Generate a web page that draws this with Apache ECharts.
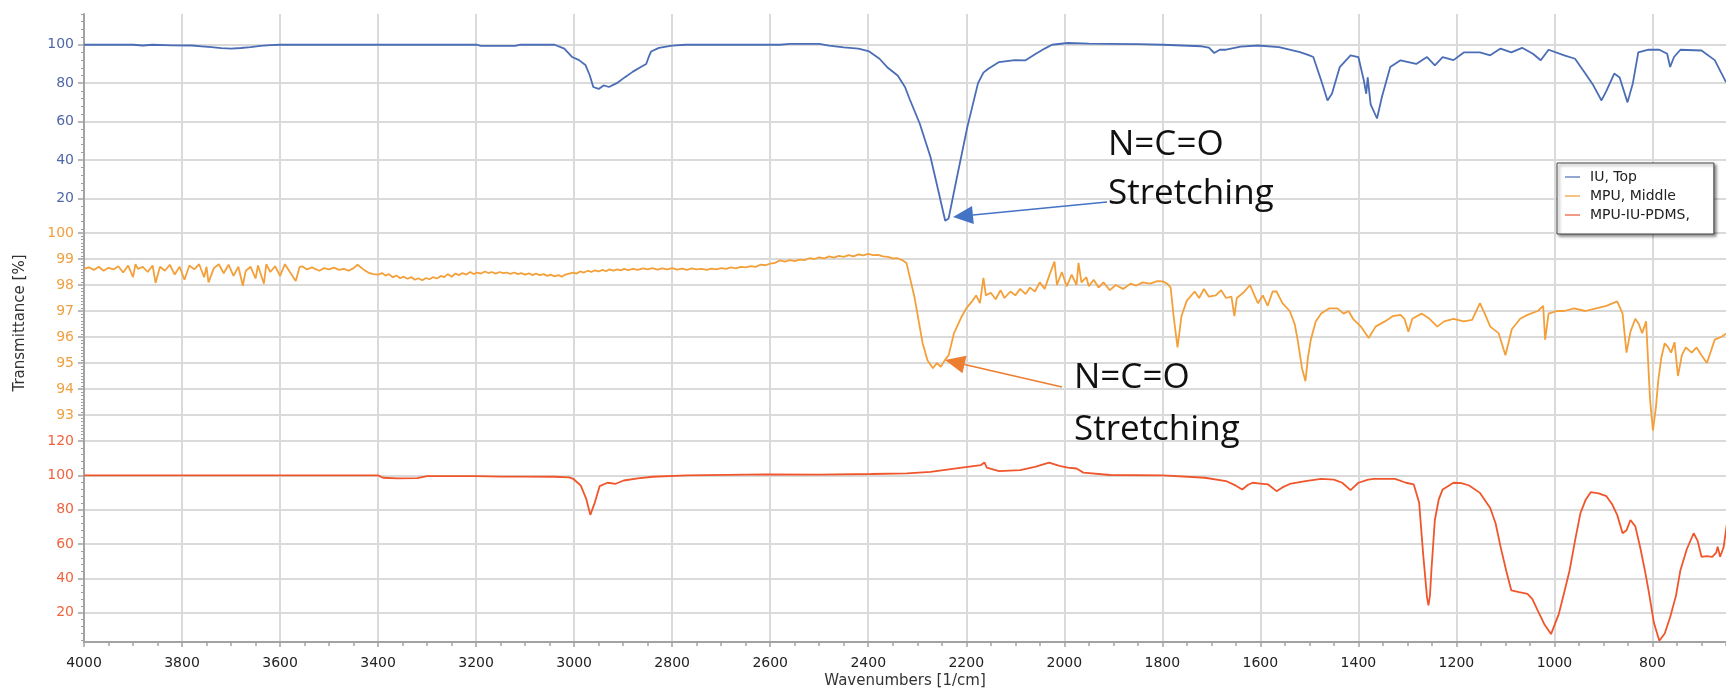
<!DOCTYPE html>
<html><head><meta charset="utf-8">
<script src="https://cdn.jsdelivr.net/npm/echarts@6/dist/echarts.min.js"></script>
<style>html,body{margin:0;padding:0;background:#fff;}#c{width:1726px;height:694px;}</style>
</head><body><div id="c"></div>
<script>
// ---------- data (wavenumber [1/cm], transmittance [%]) ----------
const seriesNames = ['IU, Top', 'MPU, Middle', 'MPU-IU-PDMS,'];
const xTickValues = [800,1000,1200,1400,1600,1800,2000,2200,2400,2600,2800,3000,3200,3400,3600,3800,4000];
const topTickValues = [20,40,60,80,100];
const midTickValues = [93,94,95,96,97,98,99,100];
const botTickValues = [20,40,60,80,100,120];

const iuData = [
[4000,100],[3900,100],[3880,99.6],[3860,100],[3820,99.7],[3780,99.6],[3760,99.2],[3740,98.8],[3720,98.2],[3700,98.0],[3680,98.3],[3660,98.8],[3640,99.4],[3620,99.8],[3600,100],
[3200,100],[3190,99.4],[3120,99.4],[3110,100],[3040,100],[3020,98],[3004,93.6],[2990,92],[2977,89.5],[2968,84],[2961,78],[2950,77],[2940,78.8],[2929,78],[2913,80],[2897,83],[2880,86],[2864,88.4],[2853,90],[2848,93.5],[2843,96.5],[2827,98.4],[2800,99.5],[2773,100],
[2580,100],[2560,100.4],[2500,100.5],[2480,99.5],[2450,98.6],[2420,98],[2398,96.5],[2377,92.7],[2360,88],[2340,84],[2325,78],[2316,72],[2295,59],[2273,41.6],[2257,24],[2243,8.4],[2236,9.6],[2219,31],[2198,57],[2176,80],[2165,85.5],[2155,87.5],[2133,91],[2101,92],[2079,91.9],[2058,95.3],[2040,98],[2025,100],[1993,100.9],[1950,100.6],[1907,100.5],[1850,100.3],[1799,100],
[1720,99.2],[1705,98.5],[1694,95.7],[1682,97.5],[1670,97.4],[1640,99],[1605,99.6],[1562,98.8],[1519,96.2],[1500,94.5],[1492,93.6],[1476,81.5],[1463,71],[1454,74.5],[1438,88.4],[1416,94.5],[1400,93.6],[1389,81.5],[1384,74.5],[1381,83],[1375,69],[1362,61.6],[1352,72.8],[1335,88.4],[1314,91.9],[1282,90],[1260,93.6],[1244,89.3],[1228,93.6],[1206,92],[1185,96],[1152,96],[1131,94.5],[1110,98],[1088,96],[1066,98.4],[1044,95.3],[1028,91.9],[1012,97.4],[980,94.5],[958,92.7],[937,85],[921,79],[904,71],[894,76],[878,85],[867,83],[851,70],[840,80],[829,96],[808,97.4],[786,97.4],[770,95.3],[764,88.4],[756,93.6],[743,97.4],[700,97],[673,92],[650,80.5]
];

const mpuData = [
[4000,98.62],[3990,98.68],[3980,98.58],[3970,98.7],[3960,98.55],[3950,98.66],[3940,98.6],[3930,98.72],[3920,98.48],[3910,98.75],[3900,98.3],[3895,98.8],[3890,98.62],[3880,98.7],[3870,98.5],[3860,98.75],[3854,98.08],[3845,98.7],[3835,98.55],[3825,98.78],[3815,98.4],[3805,98.7],[3795,98.2],[3785,98.75],[3775,98.6],[3765,98.8],[3755,98.3],[3750,98.7],[3746,98.1],[3735,98.65],[3725,98.8],[3715,98.45],[3705,98.78],[3695,98.35],[3685,98.7],[3676,97.97],[3670,98.55],[3660,98.7],[3650,98.25],[3645,98.75],[3633,98.05],[3628,98.8],[3620,98.5],[3610,98.72],[3600,98.35],[3590,98.8],[3580,98.5],[3568,98.15],[3560,98.7],[3555,98.72],[3545,98.6],[3535,98.68],[3520,98.55],[3510,98.65],[3500,98.6],[3490,98.67],[3480,98.58],[3470,98.62],[3460,98.55],[3450,98.65],[3442,98.78],[3430,98.6],[3420,98.48],[3410,98.42],
[3400,98.4],[3392,98.46],[3385,98.36],[3378,98.42],[3370,98.3],[3362,98.36],[3355,98.26],[3348,98.32],[3340,98.24],[3332,98.3],[3325,98.2],[3318,98.26],[3310,98.18],[3302,98.27],[3295,98.22],[3288,98.3],[3280,98.25],[3272,98.35],[3265,98.3],[3258,98.42],[3250,98.32],[3242,98.44],[3235,98.38],[3228,98.46],[3220,98.4],[3212,98.5],[3205,98.42],[3198,98.48],[3190,98.44],[3182,98.52],[3175,98.46],[3168,98.5],[3160,98.44],[3152,98.5],[3145,98.46],[3138,98.48],[3130,98.43],[3122,98.48],[3115,98.42],[3108,98.46],[3100,98.4],[3092,98.45],[3085,98.38],[3078,98.44],[3070,98.38],[3062,98.42],[3055,98.35],[3048,98.4],[3040,98.33],[3032,98.38],[3025,98.32],[3018,98.4],[3010,98.44],[3002,98.48],[2995,98.44],[2988,98.52],[2980,98.48],[2972,98.55],[2965,98.5],[2958,98.56],[2950,98.52],[2942,98.58],[2935,98.53],[2928,98.6],[2920,98.55],[2912,98.6],[2905,98.56],[2898,98.62],[2890,98.57],[2880,98.62],[2870,98.58],[2860,98.64],[2850,98.6],[2840,98.65],[2830,98.59],[2820,98.64],[2810,98.6],[2800,98.65],[2790,98.59],[2780,98.63],[2770,98.58],[2760,98.64],[2750,98.6],[2740,98.62],[2730,98.58],[2720,98.63],[2710,98.6],[2700,98.65],[2690,98.62],[2680,98.68],[2670,98.64],[2660,98.7],[2650,98.68],[2640,98.73],[2630,98.7],[2620,98.78],[2610,98.76],[2600,98.82],[2590,98.85],[2580,98.95],[2570,98.9],[2560,98.96],[2550,98.92],[2540,98.98],[2530,98.96],[2520,99.03],[2510,99.0],[2500,99.06],[2490,99.02],[2480,99.1],[2470,99.05],[2460,99.12],[2450,99.08],[2440,99.15],[2430,99.1],[2420,99.18],[2410,99.14],[2400,99.2],[2390,99.15],[2380,99.16],[2370,99.1],[2360,99.08],[2350,99.02],[2340,99.03],[2330,98.95],[2322,98.85],
[2306,97.56],[2289,95.76],[2279,95.1],[2268,94.8],[2260,95.0],[2252,94.85],[2244,95.1],[2236,95.3],[2225,96.15],[2209,96.8],[2200,97.1],[2187,97.4],[2180,97.6],[2172,97.3],[2165,98.27],[2160,97.6],[2150,97.7],[2140,97.45],[2130,97.8],[2122,97.5],[2110,97.75],[2100,97.6],[2090,97.85],[2079,97.65],[2070,97.9],[2060,97.75],[2050,98.1],[2040,97.85],[2030,98.4],[2020,98.9],[2015,98.0],[2005,98.5],[1995,97.95],[1985,98.4],[1975,98.0],[1971,98.85],[1965,98.1],[1955,98.3],[1950,97.95],[1940,98.2],[1930,97.9],[1920,98.1],[1907,97.8],[1895,98.0],[1880,97.85],[1865,98.05],[1853,97.98],[1840,98.1],[1825,98.05],[1810,98.15],[1799,98.14],[1790,98.05],[1783,97.9],[1777,96.8],[1769,95.6],[1761,96.8],[1750,97.4],[1734,97.75],[1725,97.5],[1715,97.85],[1705,97.55],[1691,97.6],[1680,97.8],[1670,97.5],[1659,97.55],[1653,96.8],[1648,97.5],[1635,97.7],[1621,98.0],[1612,97.6],[1605,97.3],[1595,97.6],[1585,97.2],[1575,97.75],[1567,97.75],[1555,97.3],[1540,97.0],[1530,96.5],[1524,95.9],[1515,94.8],[1508,94.3],[1503,95.2],[1497,95.9],[1487,96.6],[1476,96.9],[1460,97.1],[1443,97.1],[1430,96.9],[1420,97.0],[1411,96.7],[1395,96.4],[1379,95.96],[1365,96.4],[1346,96.6],[1330,96.8],[1314,96.85],[1306,96.7],[1298,96.2],[1290,96.7],[1271,96.9],[1255,96.7],[1239,96.4],[1225,96.6],[1206,96.7],[1185,96.6],[1168,96.66],[1152,97.3],[1140,96.8],[1131,96.4],[1114,96.15],[1100,95.3],[1087,96.3],[1070,96.7],[1055,96.85],[1034,97.0],[1023,97.2],[1019,95.9],[1012,96.9],[995,97.0],[980,97.0],[960,97.1],[937,97.0],[915,97.1],[894,97.2],[872,97.37],[861,96.9],[853,95.4],[845,96.2],[835,96.7],[828,96.5],[821,96.15],[813,96.6],[805,93.6],[799,92.4],[793,93.3],[788,94.35],[782,95.2],[775,95.76],[768,95.6],[762,95.4],[755,95.8],[748,94.5],[740,95.3],[732,95.6],[720,95.4],[710,95.6],[700,95.3],[689,95.0],[680,95.5],[673,95.9],[660,96.0],[648,96.15]
];

const pdmsData = [
[4000,100],[3900,100],[3400,100],[3390,98.6],[3360,98.2],[3320,98.4],[3300,99.5],[3256,99.6],[3202,99.6],[3148,99.3],[3100,99.3],[3040,99.2],[3010,98.8],[3002,98],[2990,95],[2986,93.7],[2975,86],[2967,77],[2958,84],[2948,93.7],[2932,95.7],[2915,95.1],[2899,97],[2870,98.2],[2840,99.2],[2770,100],[2609,100.6],[2502,100.4],[2394,100.8],[2321,101.2],[2273,102],[2209,104.5],[2170,106],[2163,107.5],[2158,104.5],[2133,102.5],[2090,103],[2060,105],[2031,107.4],[2010,105.5],[1993,104.5],[1975,104],[1961,101.6],[1907,100.2],[1799,100],[1713,98.6],[1670,96.7],[1650,94],[1637,91.8],[1625,94.5],[1616,95.7],[1600,95.2],[1584,94.7],[1567,90.8],[1555,93],[1540,95],[1508,96.7],[1476,98],[1450,97.5],[1433,95.7],[1416,91.4],[1400,95.7],[1380,97.5],[1368,98],[1325,98],[1303,95.7],[1287,94.7],[1276,84],[1268,54.6],[1260,29],[1257,24.3],[1254,30],[1251,44.8],[1244,74],[1236,86],[1228,91.8],[1206,95.7],[1190,95.5],[1174,94.1],[1152,89.8],[1131,81],[1120,72],[1110,58.5],[1098,44],[1088,33],[1072,32],[1055,31],[1045,28],[1034,21.3],[1020,13],[1007,7.6],[991,19.4],[980,32],[969,44.8],[958,62],[947,78],[936,86],[926,90.2],[910,89.5],[894,87.9],[882,83],[872,77],[861,66.3],[853,68],[845,74],[835,70.3],[825,58],[815,44],[808,33],[797,14],[786,3.7],[775,8],[764,17.4],[752,30],[743,44.8],[730,57],[716,66.3],[708,62],[700,52.6],[690,53],[678,52.6],[670,55],[667,58.5],[662,52.6],[655,58],[648,72.2]
];

// ---------- styling ----------
const seriesColors = ['#4a6db6', '#f4a03a', '#f0562c'];
const legendColors = ['#93a6d4', '#f7c383', '#f29b84'];
const labelColors = ['#5068a8', '#f0a040', '#f06440'];
const gridLine = {show: true, lineStyle: {color: '#dadada', width: 2}};
const axLine = {show: true, lineStyle: {color: '#a3a3a3', width: 2}};
const FONT = '"DejaVu Sans", Verdana, sans-serif';
const plain = v => String(v);

function stepValues(a, b, s, skip) {
  const out = [];
  for (let v = a; v <= b + 1e-9; v += s) {
    const r = Math.round(v * 1000) / 1000;
    if (!skip.some(k => Math.abs(k - r) < 1e-6)) out.push(r);
  }
  return out;
}

const grids = [
  {left: 84, right: 0, top: 14, height: 219},
  {left: 84, right: 0, top: 233, height: 208},
  {left: 84, right: 0, top: 441, height: 201}
];
const yRanges = [[2, 116], [92, 100], [3, 120]];
const yTicks = [topTickValues, midTickValues, botTickValues];
const yMinor = [stepValues(4, 116, 4, topTickValues), stepValues(92.125, 100, 0.125, midTickValues), stepValues(4, 120, 4, botTickValues)];

const xAxes = [0, 1, 2].map(i => ({
  type: 'value', gridIndex: i, position: 'bottom', min: 650, max: 4000, inverse: true,
  axisLine: i === 2 ? axLine : {show: false},
  axisTick: {show: i === 2, customValues: xTickValues, length: 5, lineStyle: {color: '#a3a3a3', width: 1.5}},
  axisLabel: {show: i === 2, customValues: xTickValues, formatter: plain, margin: 14, color: '#222', fontSize: 14, fontFamily: FONT},
  splitLine: gridLine,
  name: i === 2 ? 'Wavenumbers [1/cm]' : '',
  nameLocation: 'middle', nameGap: 32,
  nameTextStyle: {color: '#333', fontSize: 15, fontFamily: FONT}
}));
xAxes.push({
  type: 'value', gridIndex: 2, position: 'bottom', min: 650, max: 4000, inverse: true,
  axisLine: {show: false},
  axisTick: {show: true, customValues: stepValues(650, 4000, 50, xTickValues), length: 4, lineStyle: {color: '#a3a3a3', width: 1.5}},
  axisLabel: {show: false}, splitLine: {show: false}
});

const yAxes = [0, 1, 2].map(i => ({
  type: 'value', gridIndex: i, position: 'left', min: yRanges[i][0], max: yRanges[i][1],
  axisLine: axLine,
  axisTick: {show: true, customValues: yTicks[i], length: 6, lineStyle: {color: '#a3a3a3', width: 1.5}},
  axisLabel: {show: true, customValues: yTicks[i], formatter: plain, margin: 10, color: labelColors[i], fontSize: 14, fontFamily: FONT},
  splitLine: gridLine
})).concat([0, 1, 2].map(i => ({
  type: 'value', gridIndex: i, position: 'left', min: yRanges[i][0], max: yRanges[i][1],
  axisLine: {show: false},
  axisTick: {show: true, customValues: yMinor[i], length: 3, lineStyle: {color: '#a0a0a0', width: 1}},
  axisLabel: {show: false}, splitLine: {show: false}
})));

const allData = [iuData, mpuData, pdmsData];
const series = [0, 1, 2].map(i => ({
  name: seriesNames[i], type: 'line', xAxisIndex: i, yAxisIndex: i,
  data: allData[i], showSymbol: false, symbol: 'none', animation: false,
  lineStyle: {color: seriesColors[i], width: 1.8}, itemStyle: {color: seriesColors[i]}
}));

function arrow(x1, y1, x2, y2, color) {
  const dx = x2 - x1, dy = y2 - y1, L = Math.hypot(dx, dy), ux = dx / L, uy = dy / L;
  const hl = 20, hw = 9;
  const bx = x2 - ux * hl, by = y2 - uy * hl;
  return [
    {type: 'line', shape: {x1: x1, y1: y1, x2: bx, y2: by}, style: {stroke: color, lineWidth: 1.5}, z: 50},
    {type: 'polygon', shape: {points: [[x2, y2], [bx - uy * hw, by + ux * hw], [bx + uy * hw, by - ux * hw]]}, style: {fill: color}, z: 50}
  ];
}
const ANN_FONT = '35px "Open Sans", "Noto Sans", sans-serif';
function annText(t, x, y) {
  return {type: 'text', z: 50, style: {text: t, x: x, y: y, font: ANN_FONT, fill: '#111', align: 'left', verticalAlign: 'middle'}};
}

const graphic = [
  {type: 'text', x: 20, y: 323, rotation: Math.PI / 2, style: {text: 'Transmittance [%]', align: 'center', verticalAlign: 'middle', font: '15px ' + FONT, fill: '#333'}},
  annText('N=C=O', 1108, 145),
  annText('Stretching', 1108, 194),
  annText('N=C=O', 1074, 378),
  annText('Stretching', 1074, 430)
].concat(arrow(1107, 202, 953, 217, '#4472c4')).concat(arrow(1062, 387, 945, 360, '#ed7d31'));

const chart = echarts.init(document.getElementById('c'), null, {renderer: 'canvas'});
chart.setOption({
  animation: false,
  backgroundColor: '#fff',
  grid: grids,
  xAxis: xAxes,
  yAxis: yAxes,
  legend: {
    orient: 'vertical', left: 1557, top: 163,
    data: seriesNames.map((n, i) => ({name: n, itemStyle: {color: legendColors[i]}})),
    icon: 'rect', itemWidth: 15, itemHeight: 2, itemGap: 5,
    padding: [7, 24, 12, 8],
    textStyle: {color: '#222', fontSize: 14, fontFamily: FONT, padding: [0, 0, 0, 5]},
    backgroundColor: '#fff', borderColor: '#444', borderWidth: 1,
    shadowBlur: 3, shadowColor: 'rgba(0,0,0,0.45)', shadowOffsetX: 2, shadowOffsetY: 2,
    selectedMode: false
  },
  series: series,
  graphic: graphic
});
</script>
</body></html>
